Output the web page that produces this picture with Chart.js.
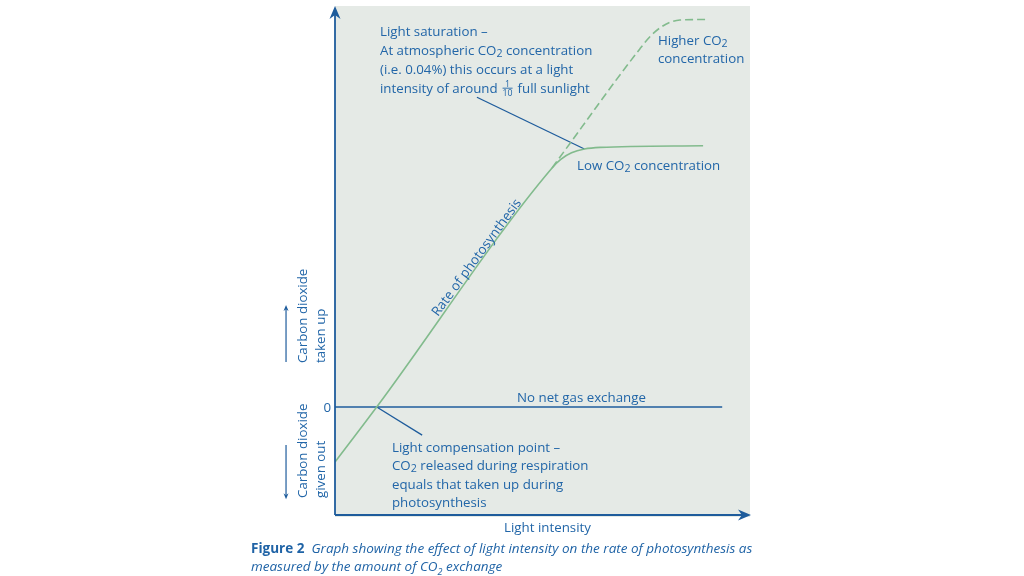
<!DOCTYPE html>
<html>
<head>
<meta charset="utf-8">
<script src="https://cdn.jsdelivr.net/npm/chart.js@4.4.0/dist/chart.umd.min.js"></script>
<style>
    body { margin: 0; background: #fff; }
    #wrap { position: relative; width: 1024px; height: 576px; }
    #chart { position: absolute; left: 0; top: 0; }
    #caption {
        position: absolute; left: 251px; top: 539px;
        font-family: "Open Sans", sans-serif; font-size: 13.5px; line-height: 18px;
        color: #1f63a6; white-space: nowrap; font-style: italic;
    }
    #caption b { font-style: normal; }
    #caption sub { font-size: 9px; }
</style>
</head>
<body>
<div id="wrap">
    <canvas id="chart" width="1024" height="576"></canvas>
    <div id="caption"><b>Figure 2</b>&nbsp; Graph showing the effect of light intensity on the rate of photosynthesis as<br>measured by the amount of CO<sub>2</sub> exchange</div>
</div>
<script>
// light intensity (x) vs CO2 exchange (y), arbitrary units
const lowX  = [0, 10.05, 52.3, 54.4, 57.0, 60.1, 63.9, 88.7];
const lowY  = [-10.2, 0, 44.3, 45.9, 47.1, 47.8, 48.1, 48.4];
const highX = [52.3, 73.5, 76.0, 78.4, 80.8, 83.1, 89.2];
const highY = [44.3, 66.4, 68.7, 70.3, 71.3, 71.7, 71.8];
const zeroX = [0, 93.3];
const zeroY = [0, 0];
const yTickLabels = ['0'];

// leader lines for the two notes
const satPointerX  = [34.2, 60.1];
const satPointerY  = [57.4, 47.8];
const compPointerX = [10.05, 21.0];
const compPointerY = [0, -5.2];

const X_MIN = 0, X_MAX = 100, Y_MIN = -20, Y_MAX = 74.3;

const GREEN = '#82bb8d';
const BLUE = '#1e5c9c';
const TEXT_BLUE = '#2266a8';
const PANEL = '#e5eae6';
const FONT = '"Open Sans", sans-serif';
const SIZE = 13.3;

function pts(xs, ys) {
    return xs.map((x, i) => ({ x: x, y: ys[i] }));
}

function font(size) {
    return size + 'px ' + FONT;
}

// split on CO2 and the 1/10 fraction so they can be set small
function parts(str) {
    return str.split(/(CO2|\{1\/10\})/).filter(p => p);
}

function richWidth(ctx, str, size) {
    let w = 0;
    parts(str).forEach(p => {
        if (p === 'CO2') {
            ctx.font = font(size); w += ctx.measureText('CO').width;
            ctx.font = font(size * 0.8); w += ctx.measureText('2').width;
        } else if (p === '{1/10}') {
            ctx.font = font(size * 0.66); w += ctx.measureText('10').width + 3;
        } else {
            ctx.font = font(size); w += ctx.measureText(p).width;
        }
    });
    return w;
}

function drawRich(ctx, str, x, yMid, size, align) {
    if (align === 'center') x -= richWidth(ctx, str, size) / 2;
    if (align === 'right') x -= richWidth(ctx, str, size);
    const base = yMid + size * 0.36;
    ctx.textAlign = 'left';
    ctx.textBaseline = 'alphabetic';
    parts(str).forEach(p => {
        if (p === 'CO2') {
            ctx.font = font(size);
            ctx.fillText('CO', x, base);
            x += ctx.measureText('CO').width;
            ctx.font = font(size * 0.8);
            ctx.fillText('2', x, base + size * 0.14);
            x += ctx.measureText('2').width;
        } else if (p === '{1/10}') {
            const s = size * 0.66;
            ctx.font = font(s);
            const w = ctx.measureText('10').width;
            const cx = x + 1.5 + w / 2;
            ctx.textAlign = 'center';
            ctx.fillText('1', cx, yMid - 1.5);
            ctx.fillText('10', cx, yMid + 1.5 + s * 0.72);
            ctx.textAlign = 'left';
            ctx.fillRect(x + 1.5, yMid - 0.5, w, 0.9);
            x += w + 3;
        } else {
            ctx.font = font(size);
            ctx.fillText(p, x, base);
            x += ctx.measureText(p).width;
        }
    });
}

function arrow(ctx, x1, y1, x2, y2, len, half, width) {
    const a = Math.atan2(y2 - y1, x2 - x1);
    ctx.lineWidth = width;
    ctx.beginPath();
    ctx.moveTo(x1, y1);
    ctx.lineTo(x2 - Math.cos(a) * len * 0.6, y2 - Math.sin(a) * len * 0.6);
    ctx.stroke();
    ctx.beginPath();
    ctx.moveTo(x2, y2);
    ctx.lineTo(x2 - Math.cos(a) * len + Math.sin(a) * half, y2 - Math.sin(a) * len - Math.cos(a) * half);
    ctx.lineTo(x2 - Math.cos(a) * len * 0.7, y2 - Math.sin(a) * len * 0.7);
    ctx.lineTo(x2 - Math.cos(a) * len - Math.sin(a) * half, y2 - Math.sin(a) * len + Math.cos(a) * half);
    ctx.closePath();
    ctx.fill();
}

// notes, positioned in data units
const notes = [
    { x: 10.84, y: 69.63, step: 19, lines: ['Light saturation –', 'At atmospheric CO2 concentration', '(i.e. 0.04%) this occurs at a light', 'intensity of around {1/10} full sunlight'] },
    { x: 77.83, y: 67.96, step: 18, lines: ['Higher CO2', 'concentration'] },
    { x: 58.31, y: 44.81, step: 18, lines: ['Low CO2 concentration'] },
    { x: 43.86, y: 1.85, step: 18, lines: ['No net gas exchange'] },
    { x: 13.73, y: -7.41, step: 18.5, lines: ['Light compensation point –', 'CO2 released during respiration', 'equals that taken up during', 'photosynthesis'] }
];

const figurePlugin = {
    id: 'figure',
    beforeDraw(chart) {
        const { ctx, chartArea: a } = chart;
        ctx.save();
        ctx.fillStyle = PANEL;
        ctx.fillRect(a.left, a.top, a.right - a.left, a.bottom - a.top + 2);
        ctx.restore();
    },
    afterDraw(chart) {
        const { ctx, chartArea: a, scales } = chart;
        const px = v => scales.x.getPixelForValue(v);
        const py = v => scales.y.getPixelForValue(v);
        ctx.save();

        // axes with arrow heads
        ctx.strokeStyle = BLUE;
        ctx.fillStyle = BLUE;
        arrow(ctx, a.left, a.bottom, a.left, a.top, 13, 5.5, 1.8);
        arrow(ctx, a.left, a.bottom, a.right + 1, a.bottom, 13, 5.5, 1.8);

        // side arrows for taken up / given out
        const sx = px(-11.8);
        arrow(ctx, sx, py(8.33), sx, py(18.9), 6, 2.5, 1.2);
        arrow(ctx, sx, py(-7.04), sx, py(-17.1), 6, 2.5, 1.2);

        ctx.fillStyle = TEXT_BLUE;
        notes.forEach(n => {
            n.lines.forEach((l, i) => drawRich(ctx, l, px(n.x), py(n.y) + i * n.step, SIZE, 'left'));
        });

        // y tick label and x axis title
        drawRich(ctx, yTickLabels[0], px(-0.96), py(0), SIZE, 'right');
        drawRich(ctx, 'Light intensity', px(51.2), py(-22.2), SIZE, 'center');

        // rotated side labels
        [[-7.95, 8.15, 'Carbon dioxide'], [-3.61, 8.15, 'taken up'],
         [-7.95, -16.85, 'Carbon dioxide'], [-3.61, -16.85, 'given out']].forEach(s => {
            ctx.save();
            ctx.translate(px(s[0]), py(s[1]));
            ctx.rotate(-Math.PI / 2);
            drawRich(ctx, s[2], 0, 0, SIZE, 'left');
            ctx.restore();
        });

        // label along the rising line
        const ang = Math.atan2(py(lowY[2]) - py(lowY[1]), px(lowX[2]) - px(lowX[1]));
        ctx.save();
        ctx.translate(px(33.98), py(27.78));
        ctx.rotate(ang);
        drawRich(ctx, 'Rate of photosynthesis', 0, 0, SIZE, 'center');
        ctx.restore();

        ctx.restore();
    }
};

new Chart(document.getElementById('chart'), {
    type: 'line',
    data: {
        datasets: [
            { data: pts(lowX, lowY), borderColor: GREEN, borderWidth: 1.6, cubicInterpolationMode: 'monotone' },
            { data: pts(highX, highY), borderColor: GREEN, borderWidth: 1.6, borderDash: [8, 4], cubicInterpolationMode: 'monotone' },
            { data: pts(zeroX, zeroY), borderColor: BLUE, borderWidth: 1.5 },
            { data: pts(satPointerX, satPointerY), borderColor: BLUE, borderWidth: 1.3 },
            { data: pts(compPointerX, compPointerY), borderColor: BLUE, borderWidth: 1.3 }
        ]
    },
    options: {
        responsive: false,
        animation: false,
        events: [],
        elements: { point: { radius: 0 }, line: { tension: 0, fill: false } },
        layout: { padding: { left: 335, right: 274, top: 6, bottom: 61 } },
        scales: {
            x: { type: 'linear', min: X_MIN, max: X_MAX, display: false },
            y: { type: 'linear', min: Y_MIN, max: Y_MAX, display: false }
        },
        plugins: { legend: { display: false }, tooltip: { enabled: false } }
    },
    plugins: [figurePlugin]
});
</script>
</body>
</html>
